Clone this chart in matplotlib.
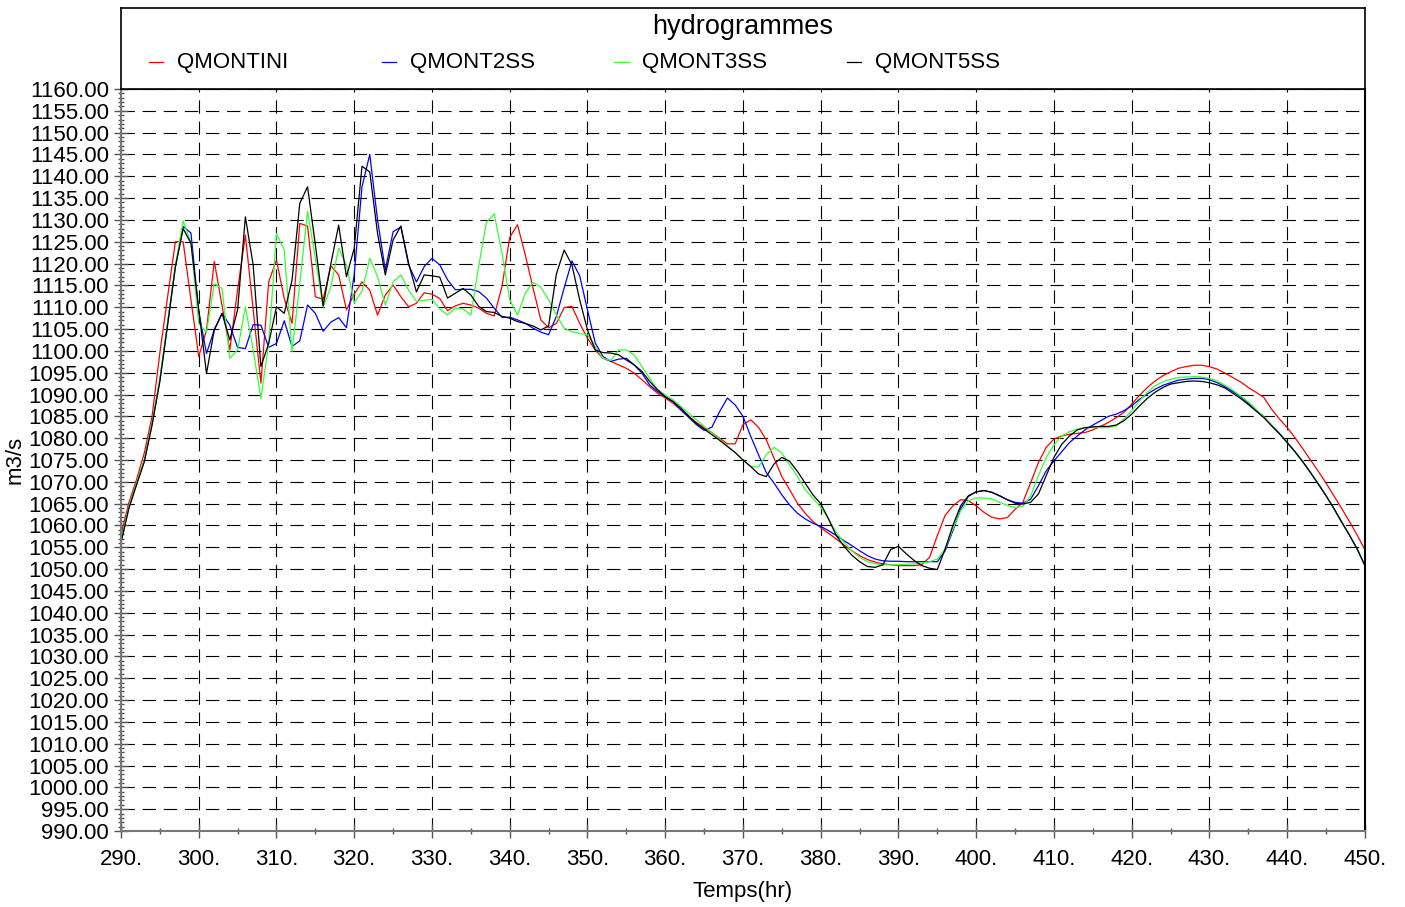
import numpy as np
import matplotlib
matplotlib.use("Agg")
import matplotlib.pyplot as plt
from matplotlib.ticker import MultipleLocator, FuncFormatter

plt.rcParams["font.family"] = ["Liberation Sans", "DejaVu Sans"]

# -- data: discharge (m3/s) read hourly from 290 to 450 hr
hours = np.arange(290, 451)

q_montini = [
    1057.9, 1065.1, 1070.5, 1076.6, 1085.0, 1099.5, 1112.4, 1125.0, 1125.0, 1111.7,
    1098.7, 1104.8, 1120.5, 1110.4, 1100.2, 1114.0, 1126.5, 1109.5, 1092.6, 1115.8,
    1120.8, 1112.0, 1106.3, 1129.2, 1128.6, 1112.4, 1111.8, 1119.5, 1117.4, 1109.4,
    1113.0, 1115.8, 1113.9, 1108.2, 1112.8, 1115.1, 1112.4, 1110.1, 1110.9, 1113.3,
    1113.0, 1112.0, 1109.2, 1110.3, 1110.9, 1110.5, 1109.8, 1108.6, 1108.0, 1114.7,
    1126.0, 1128.9, 1122.0, 1114.4, 1107.1, 1105.3, 1106.3, 1109.9, 1110.2, 1106.3,
    1102.9, 1100.2, 1098.3, 1097.6, 1096.8, 1096.0, 1094.9, 1093.4, 1091.8, 1090.3,
    1089.2, 1088.0, 1086.5, 1085.0, 1083.6, 1082.4, 1081.3, 1080.0, 1078.7, 1078.7,
    1083.1, 1084.2, 1082.5, 1079.6, 1075.4, 1071.2, 1068.2, 1065.1, 1062.8, 1060.9,
    1059.5, 1058.2, 1056.9, 1055.5, 1054.2, 1053.1, 1052.2, 1051.6, 1051.2, 1051.0,
    1050.8, 1050.8, 1050.8, 1051.0, 1052.7, 1057.7, 1062.3, 1064.5, 1065.9, 1065.7,
    1064.5, 1063.0, 1061.9, 1061.5, 1061.8, 1063.7, 1065.3, 1069.8, 1074.4, 1077.9,
    1079.8, 1080.5, 1080.9, 1081.1, 1081.3, 1081.9, 1082.7, 1083.6, 1084.7, 1085.9,
    1087.8, 1089.8, 1091.6, 1093.1, 1094.3, 1095.2, 1096.0, 1096.4, 1096.7, 1096.7,
    1096.4, 1095.8, 1094.9, 1093.9, 1092.9, 1091.6, 1090.5, 1089.3, 1086.6, 1084.4,
    1082.4, 1080.1, 1077.6, 1075.0, 1072.4, 1069.7, 1066.8, 1063.9, 1060.9, 1057.8,
    1054.4,
]

q_mont2ss = [
    1056.5, 1064.0, 1069.5, 1074.8, 1083.3, 1093.3, 1106.2, 1119.3, 1128.5, 1127.0,
    1109.0, 1099.4, 1104.8, 1108.6, 1105.9, 1100.8, 1100.5, 1106.0, 1105.9, 1100.8,
    1101.7, 1106.9, 1101.0, 1102.3, 1110.5, 1108.6, 1104.5, 1106.6, 1107.6, 1105.3,
    1117.5, 1137.6, 1145.0, 1130.0, 1118.5, 1127.3, 1128.4, 1119.7, 1115.8, 1119.3,
    1121.2, 1119.7, 1116.3, 1114.0, 1114.1, 1114.1, 1113.6, 1112.1, 1109.8, 1107.7,
    1107.7, 1107.1, 1106.3, 1105.2, 1104.3, 1103.7, 1107.9, 1114.4, 1120.6, 1117.2,
    1109.4, 1101.8, 1098.7, 1097.6, 1098.1, 1098.3, 1096.8, 1094.9, 1092.2, 1090.7,
    1089.5, 1088.4, 1086.5, 1084.8, 1083.1, 1081.8, 1082.5, 1086.1, 1089.2, 1087.6,
    1085.0, 1080.4, 1076.2, 1072.1, 1069.7, 1067.0, 1064.7, 1062.8, 1061.5, 1060.5,
    1059.8, 1058.8, 1057.7, 1056.5, 1055.4, 1054.2, 1053.1, 1052.3, 1051.9, 1051.8,
    1051.8, 1051.7, 1051.7, 1051.7, 1051.7, 1051.7, 1054.2, 1058.8, 1063.8, 1066.7,
    1067.7, 1068.0, 1067.6, 1066.8, 1065.9, 1065.3, 1065.1, 1066.0, 1069.1, 1072.5,
    1074.8, 1076.9, 1079.0, 1080.5, 1081.9, 1083.0, 1084.0, 1085.0, 1085.5, 1086.3,
    1087.4, 1088.9, 1090.1, 1091.2, 1092.1, 1092.7, 1093.3, 1093.5, 1093.7, 1093.7,
    1093.4, 1092.7, 1091.8, 1090.7, 1089.5, 1088.0, 1086.4, 1084.9, 1083.0, 1081.1,
    1079.0, 1076.9, 1074.6, 1072.1, 1069.5, 1066.8, 1063.9, 1060.8, 1057.8, 1054.6,
    1050.8,
]

q_mont3ss = [
    1056.5, 1064.2, 1069.7, 1075.0, 1083.5, 1093.5, 1106.5, 1119.5, 1129.8, 1124.7,
    1106.3, 1104.2, 1115.4, 1114.3, 1098.3, 1100.2, 1110.1, 1100.2, 1089.1, 1101.7,
    1126.9, 1123.1, 1099.8, 1115.5, 1131.9, 1121.2, 1110.0, 1114.7, 1123.5, 1119.7,
    1111.0, 1113.7, 1121.2, 1117.0, 1110.5, 1115.8, 1117.4, 1113.9, 1111.3, 1111.6,
    1111.8, 1109.6, 1108.2, 1109.8, 1109.6, 1108.2, 1119.3, 1129.4, 1131.4, 1122.4,
    1111.7, 1108.2, 1113.2, 1115.7, 1114.6, 1111.7, 1108.2, 1105.2, 1104.4, 1104.0,
    1103.7, 1101.0, 1098.3, 1097.8, 1100.2, 1100.2, 1099.1, 1096.4, 1093.7, 1091.2,
    1089.9, 1088.8, 1087.3, 1085.7, 1084.2, 1082.7, 1081.3, 1079.8, 1078.2, 1076.7,
    1075.0, 1073.5, 1073.4, 1076.2, 1077.9, 1076.6, 1073.9, 1071.2, 1068.2, 1066.2,
    1064.2, 1061.5, 1058.4, 1056.1, 1054.2, 1052.7, 1051.7, 1051.2, 1051.0, 1051.0,
    1051.0, 1051.1, 1051.2, 1051.4, 1051.7, 1052.3, 1054.6, 1059.2, 1063.4, 1065.7,
    1066.3, 1066.3, 1066.1, 1065.3, 1064.6, 1064.1, 1064.4, 1066.8, 1071.4, 1075.6,
    1078.4, 1080.5, 1081.5, 1082.1, 1082.4, 1082.4, 1082.4, 1082.4, 1082.8, 1084.4,
    1086.3, 1088.5, 1090.5, 1092.0, 1092.9, 1093.5, 1093.9, 1094.0, 1094.1, 1094.0,
    1093.7, 1093.1, 1092.1, 1091.0, 1089.7, 1088.3, 1086.6, 1084.9, 1083.0, 1081.1,
    1079.0, 1076.9, 1074.6, 1072.1, 1069.5, 1066.8, 1063.9, 1060.8, 1057.8, 1054.6,
    1050.8,
]

q_mont5ss = [
    1056.0, 1063.8, 1069.3, 1074.6, 1083.0, 1093.0, 1106.0, 1119.3, 1128.0, 1124.7,
    1109.5, 1094.8, 1104.8, 1108.6, 1102.5, 1109.4, 1130.7, 1119.7, 1096.4, 1101.7,
    1110.1, 1108.6, 1116.2, 1133.8, 1137.6, 1124.3, 1110.3, 1120.0, 1128.8, 1117.0,
    1123.5, 1142.3, 1141.0, 1126.9, 1117.4, 1125.4, 1128.6, 1120.0, 1113.5, 1117.4,
    1117.2, 1116.9, 1112.1, 1113.2, 1114.3, 1112.8, 1110.2, 1109.0, 1108.8, 1107.9,
    1107.5, 1106.7, 1106.3, 1105.7, 1104.8, 1105.7, 1117.6, 1123.1, 1119.7, 1111.7,
    1104.8, 1100.2, 1099.6, 1099.5, 1099.1, 1097.9, 1096.8, 1095.3, 1093.0, 1091.1,
    1089.5, 1088.4, 1086.9, 1085.1, 1083.4, 1082.1, 1080.8, 1079.5, 1078.1, 1076.7,
    1075.0, 1073.5, 1071.8, 1071.2, 1074.1, 1075.6, 1074.7, 1072.4, 1069.7, 1067.0,
    1065.0, 1061.5, 1057.7, 1055.2, 1053.2, 1051.7, 1050.6, 1050.4, 1051.0, 1054.5,
    1055.2, 1053.5, 1052.0, 1050.8, 1050.2, 1049.9, 1054.6, 1060.0, 1064.5, 1066.8,
    1067.7, 1068.0, 1067.6, 1066.8, 1065.9, 1065.1, 1064.9, 1065.3, 1067.2, 1071.4,
    1075.6, 1078.6, 1080.5, 1081.9, 1082.4, 1082.6, 1082.7, 1082.7, 1083.0, 1084.0,
    1085.5, 1087.4, 1089.1, 1090.5, 1091.6, 1092.4, 1092.7, 1093.0, 1093.1, 1093.0,
    1092.7, 1092.2, 1091.5, 1090.3, 1089.1, 1087.7, 1086.2, 1084.7, 1082.8, 1081.0,
    1079.0, 1076.9, 1074.6, 1072.1, 1069.5, 1066.8, 1063.9, 1060.8, 1057.8, 1054.6,
    1050.8,
]

series = [
    ("QMONTINI", q_montini, "#ff0000"),
    ("QMONT2SS", q_mont2ss, "#0000ff"),
    ("QMONT3SS", q_mont3ss, "#33ff33"),
    ("QMONT5SS", q_mont5ss, "#000000"),
]

# -- figure and main axes
fig = plt.figure(figsize=(14.05, 9.07), dpi=100)
ax = fig.add_axes([0.0861, 0.0838, 0.8854, 0.8181])

for name, vals, col in series:
    ax.plot(hours, vals, color=col, lw=0.9, label=name)

ax.set_xlim(290, 450)
ax.set_ylim(990, 1160)
ax.xaxis.set_major_locator(MultipleLocator(10))
ax.xaxis.set_minor_locator(MultipleLocator(5))
ax.yaxis.set_major_locator(MultipleLocator(5))
ax.yaxis.set_minor_locator(MultipleLocator(1))
ax.xaxis.set_major_formatter(FuncFormatter(lambda v, p: "{0:.0f}.".format(v)))
ax.yaxis.set_major_formatter(FuncFormatter(lambda v, p: "{0:.2f}".format(v)))

ax.tick_params(axis="both", which="major", direction="inout", length=9.5,
               width=1, color="#555555", labelsize=16)
ax.tick_params(axis="both", which="minor", direction="inout", length=4.5,
               width=1, color="#555555")
ax.tick_params(axis="y", which="major", pad=4)
ax.tick_params(axis="x", which="major", pad=8)

ax.grid(True, which="major", color="black", lw=0.8, linestyle=(0, (12, 7)))

for side in ["bottom", "left"]:
    ax.spines[side].set_color("#777777")
    ax.spines[side].set_linewidth(1.5)
for side in ["top", "right"]:
    ax.spines[side].set_color("black")
    ax.spines[side].set_linewidth(1.5)

ax.set_xlabel("Temps(hr)", fontsize=16, labelpad=8)
ax.set_ylabel("m3/s", fontsize=16, labelpad=2)

# -- header box with title and legend entries
hax = fig.add_axes([0.0861, 0.9019, 0.8854, 0.0893])
hax.set_xlim(0, 1)
hax.set_ylim(0, 1)
hax.set_xticks([])
hax.set_yticks([])
for s in hax.spines.values():
    s.set_color("black")
    s.set_linewidth(1.2)
hax.text(0.5, 0.76, "hydrogrammes", ha="center", va="center", fontsize=19.5)
for k, (name, vals, col) in enumerate(series):
    x0 = 0.0225 + k * 0.1871
    hax.plot([x0, x0 + 0.0113], [0.33, 0.33], color=col, lw=0.9)
    hax.text(x0 + 0.0225, 0.33, name, ha="left", va="center", fontsize=16)

fig.savefig("out.png", dpi=100)
